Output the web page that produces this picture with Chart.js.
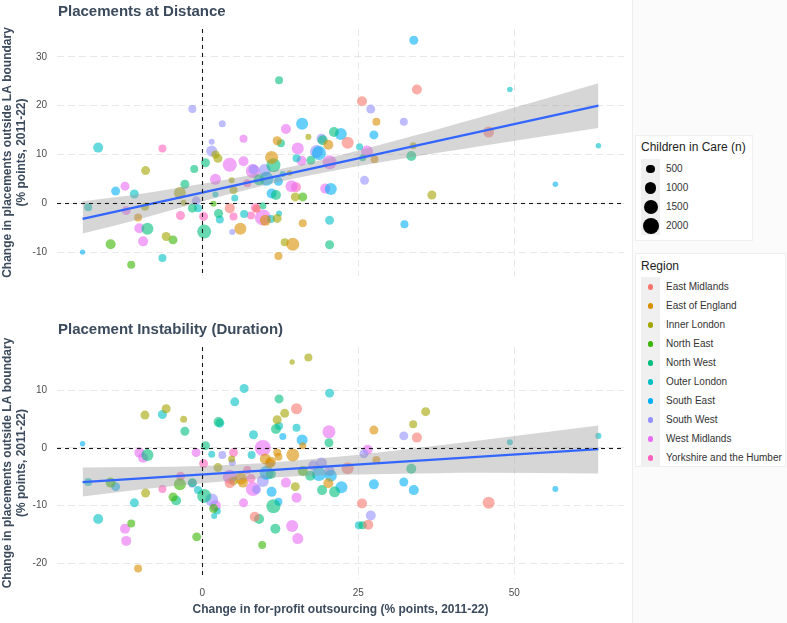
<!DOCTYPE html>
<html><head><meta charset="utf-8">
<script src="https://cdn.jsdelivr.net/npm/chart.js@4/dist/chart.umd.min.js"></script>
<style>
body{margin:0;background:#fff;font-family:'Liberation Sans',Arial,sans-serif;}
#wrap{position:relative;width:787px;height:623px;overflow:hidden;background:#fff;}
canvas{position:absolute;left:0;}
.ptitle{position:absolute;left:58px;font-weight:bold;font-size:15px;color:#3b4a5c;line-height:18px;white-space:nowrap;}
#side{position:absolute;left:632px;top:0;width:155px;height:623px;background:#fbfbfb;border-left:1px solid #eeeeee;}
.lbox{position:absolute;background:#fff;border:1px solid #efefef;box-sizing:border-box;}
.ltitle{position:absolute;left:641px;font-size:12px;color:#222;line-height:14px;white-space:nowrap;}
.keybg{position:absolute;left:641px;width:19px;background:#f0f0f0;}
.dot{position:absolute;border-radius:50%;}
.llab{position:absolute;left:666px;font-size:10px;color:#333;line-height:12px;white-space:nowrap;}
</style>
</head><body>
<div id="wrap">
  <div id="side"></div>
  <canvas id="cTop" width="632" height="292" style="top:0px"></canvas>
  <canvas id="cBot" width="632" height="323" style="top:300px"></canvas>
  <div class="ptitle" style="top:2px">Placements at Distance</div>
  <div class="ptitle" style="top:320px">Placement Instability (Duration)</div>
  <div id="legend"></div>
</div>
<script>
// ---------- DATA ----------
const regions = ['East Midlands','East of England','Inner London','North East','North West','Outer London','South East','South West','West Midlands','Yorkshire and the Humber'];
const xTicks = [0, 25, 50];
const distYTicks = [-10, 0, 10, 20, 30];
const instYTicks = [-20, -10, 0, 10];
const sizeBreaks = [500, 1000, 1500, 2000];

// Placements at Distance: [x, y, children in care]
const distEastMidlands = [[4.4,-1.0,700],[8.7,-1.1,400],[23.3,12.4,1070],[25.6,20.9,700],[34.4,23.3,700],[45.9,14.6,875]];
const distEastOfEngland = [[-10.3,-2.9,400],[6.1,-5.2,1070],[10.1,-3.5,875],[11.1,9.4,1275],[12.0,12.8,540],[12.2,-10.8,400],[14.5,-8.4,1275],[16.1,-4.1,400],[20.2,12.0,700],[27.6,9.0,400],[27.9,16.7,400]];
const distInnerLondon = [[-9.2,-0.7,400],[-9.1,6.7,540],[-5.8,-6.8,540],[-3.6,2.1,1070],[-3.0,0.1,170],[2.1,10.0,400],[2.5,9.2,540],[4.7,4.7,170],[5.0,2.7,400],[12.0,-3.1,540],[13.2,-8.0,400],[14.0,6.2,120],[14.9,1.3,540],[17.0,13.6,170],[33.8,11.8,275],[36.8,1.7,540]];
const distNorthEast = [[-14.7,-8.4,700],[-11.4,-12.6,400],[-4.7,-7.5,540],[1.8,-0.1,170],[16.1,1.3,540]];
const distNorthWest = [[-8.8,-5.2,1070],[-2.8,3.9,540],[-1.6,-1.0,540],[-1.3,7.0,400],[0.3,-5.8,1500],[0.5,8.3,540],[2.6,-2.1,540],[9.1,4.8,875],[9.7,-0.5,275],[11.4,7.8,1500],[11.8,1.7,700],[12.3,25.2,400],[12.6,12.3,400],[17.4,8.8,540],[19.3,12.9,700],[20.4,-8.5,540],[21.1,14.6,700],[25.7,9.3,275],[33.5,9.7,700]];
const distOuterLondon = [[-18.3,-0.8,400],[-16.7,11.4,700],[-10.9,1.9,540],[-6.4,-11.2,400],[-0.7,-1.0,400],[2.1,1.8,170],[2.8,-3.3,400],[5.2,1.1,275],[6.7,-2.2,400],[11.0,-3.2,400],[12.3,-2.1,170],[12.9,6.0,170],[15.1,9.2,400],[20.4,-3.5,540],[25.2,11.6,275],[49.3,23.3,120],[63.5,11.8,120]];
const distSouthEast = [[-19.2,-10.0,100],[-13.9,2.5,540],[10.3,5.0,1500],[11.1,2.0,700],[12.2,4.5,540],[16.0,16.3,1070],[18.7,10.3,1500],[20.6,2.9,1070],[22.2,14.2,1070],[27.5,14.0,540],[33.9,33.4,540],[32.4,-4.3,400],[56.6,3.9,120]];
const distSouthWest = [[-1.6,19.3,400],[-1.0,0.5,540],[1.5,12.6,170],[1.5,10.7,875],[3.2,16.3,275],[4.8,-5.9,170],[8.2,6.9,700],[10.0,6.8,1070],[18.3,10.6,1275],[19.1,13.2,700],[26.0,4.7,540],[27.0,19.3,540],[32.3,16.7,400]];
const distWestMidlands = [[-12.4,3.5,540],[-12.2,-1.5,540],[-10.1,-5.1,700],[-9.5,-7.8,700],[2.1,4.9,875],[4.4,7.9,1500],[6.6,8.6,700],[6.6,13.2,400],[8.1,6.6,1500],[9.7,-2.9,2000],[13.4,15.2,700],[14.3,3.5,1070],[15.3,11.2,1070],[15.9,8.7,700],[19.7,3.0,700],[20.4,8.4,1500],[26.4,10.6,1070]];
const distYorkshire = [[-6.4,11.2,400],[-3.5,-2.5,540],[0.2,-2.7,540],[5.0,-2.7,400],[7.2,4.1,400],[7.8,-2.5,400],[8.5,-0.9,540],[15.0,3.3,700]];

// Placement Instability: [x, y, children in care]
const instEastMidlands = [[4.4,-6.1,700],[8.4,-11.9,700],[15.1,6.8,875],[23.3,-3.5,1070],[25.6,-9.6,700],[26.6,-13.3,700],[34.4,1.8,700],[45.9,-9.5,1070]];
const instEastOfEngland = [[-10.3,-20.9,400],[6.2,-5.3,1070],[6.5,-6.0,700],[10.1,-1.9,875],[10.8,-2.7,700],[11.0,-2.4,700],[12.0,-0.8,400],[12.2,-1.5,400],[14.5,-1.2,1275],[16.1,0.4,275],[20.2,-6.1,700],[27.9,-2.1,400],[27.5,3.1,540]];
const instInnerLondon = [[-9.2,5.7,540],[-9.1,-7.8,540],[-5.8,6.8,540],[-3.0,5.0,275],[2.5,-3.4,540],[4.7,-1.9,275],[5.0,-5.7,540],[12.0,4.9,540],[13.2,6.0,540],[14.4,14.9,100],[14.9,-6.7,540],[17.0,15.7,400],[35.8,6.3,540],[33.8,4.1,400]];
const instNorthEast = [[-14.7,-6.0,700],[-11.4,-13.1,400],[-4.7,-8.5,540],[-3.6,-6.3,1070],[1.8,-10.5,540],[16.1,-4.0,700],[-0.9,-15.4,540],[9.6,-16.8,400]];
const instNorthWest = [[-8.8,-1.2,1070],[-2.8,2.9,540],[-1.6,-6.0,540],[-4.2,-9.1,700],[0.3,-8.3,1500],[0.5,0.4,540],[2.6,4.5,700],[9.1,-12.3,700],[11.4,-10.1,1500],[11.0,-4.5,700],[11.7,-14.0,700],[12.3,8.5,540],[11.8,3.3,700],[17.3,-4.8,700],[19.2,-7.3,700],[20.3,0.9,540],[21.2,-7.6,875],[25.7,-13.4,400],[33.5,-3.6,700]];
const instOuterLondon = [[-18.3,-5.9,400],[-16.7,-12.3,700],[-10.9,-9.5,540],[-6.4,5.8,540],[-0.7,-7.3,400],[1.5,-1.1,275],[1.9,-11.8,170],[2.4,-10.9,275],[2.8,4.3,540],[5.2,8.0,540],[6.7,10.3,540],[8.2,2.3,540],[7.9,-1.2,400],[12.3,3.8,400],[15.1,3.5,400],[20.4,9.5,540],[25.1,-13.4,400],[49.3,1.0,170],[63.5,2.1,170]];
const instSouthEast = [[-19.2,0.75,120],[-13.9,-6.7,540],[10.3,-4.3,1500],[11.1,-7.6,700],[12.2,-9.3,400],[12.9,2.0,275],[16.0,1.4,875],[18.7,-4.5,1500],[20.6,-4.8,1070],[22.3,-6.8,1070],[27.5,-6.3,700],[32.3,-5.9,540],[33.9,-7.3,700],[56.6,-7.1,170]];
const instSouthWest = [[-1.6,-6.1,540],[1.5,-9.0,1275],[3.2,-1.2,400],[4.8,-2.5,275],[8.7,-7.2,540],[9.7,-5.7,1070],[17.8,-3.0,700],[19.1,-2.6,875],[20.4,-4.0,700],[25.9,-1.0,540],[27.0,-11.7,700],[32.3,2.1,540]];
const instWestMidlands = [[-12.4,-14.0,700],[-12.2,-16.1,700],[-10.1,-0.8,700],[-9.5,-1.7,700],[-1.0,-0.8,540],[2.1,-10.0,875],[4.4,-5.0,1500],[6.6,-9.5,540],[8.1,-7.1,1500],[9.7,0.0,2000],[13.4,-6.0,700],[14.4,-13.5,1070],[15.1,-8.6,700],[15.3,-15.7,875],[20.3,2.8,1275],[26.5,-0.3,700]];
const instYorkshire = [[-6.4,-7.1,400],[-3.5,-4.9,540],[0.2,-2.7,540],[5.0,-0.8,540],[7.2,-3.8,400],[7.8,-5.3,540]];

// Fitted lines and confidence bands
const distLineX = [-19.2, 63.5];
const distLineY = [-3.2, 20.0];
const distBandX = [-19.2, -10, 0, 7, 15, 30, 45, 63.5];
const distBandUpper = [0.4, 1.9, 4.0, 5.6, 7.7, 12.5, 17.8, 24.6];
const distBandLower = [-6.2, -3.2, 0.35, 2.7, 5.1, 8.7, 11.8, 15.4];

const instLineX = [-19.2, 63.5];
const instLineY = [-5.9, -0.2];
const instBandX = [-19.2, -10, 0, 10, 20, 30, 45, 63.5];
const instBandUpper = [-3.4, -3.3, -3.1, -2.6, -1.7, -0.55, 1.4, 3.9];
const instBandLower = [-8.4, -7.2, -6.1, -5.2, -4.7, -4.5, -4.3, -4.4];

const distanceSets = [distEastMidlands, distEastOfEngland, distInnerLondon, distNorthEast, distNorthWest, distOuterLondon, distSouthEast, distSouthWest, distWestMidlands, distYorkshire];
const instabilitySets = [instEastMidlands, instEastOfEngland, instInnerLondon, instNorthEast, instNorthWest, instOuterLondon, instSouthEast, instSouthWest, instWestMidlands, instYorkshire];

// ---------- STYLE ----------
const regionColors = ['#F8766D','#D89000','#A3A500','#39B600','#00BF7D','#00BFC4','#00B0F6','#9590FF','#E76BF3','#FF62BC'];
const FONT = "'Liberation Sans', Arial, sans-serif";
const titleColor = '#3b4a5c';
function radiusFor(n){ return Math.sqrt(4 + n * 0.03); }
function rgba(hex, a){ const v = parseInt(hex.slice(1),16); return `rgba(${(v>>16)&255},${(v>>8)&255},${v&255},${a})`; }
function zip(xs, ys){ return xs.map((x,i)=>({x:x, y:ys[i]})); }

const refLines = {
  id: 'refLines',
  afterDatasetsDraw(chart){
    const {ctx, chartArea:a, scales:{x, y}} = chart;
    ctx.save();
    ctx.strokeStyle = '#1a1a1a'; ctx.lineWidth = 1.1; ctx.setLineDash([4,4]);
    const px = Math.round(x.getPixelForValue(0)) + 0.5;
    const py = Math.round(y.getPixelForValue(0)) + 0.5;
    ctx.beginPath(); ctx.moveTo(px, a.top); ctx.lineTo(px, a.bottom); ctx.stroke();
    ctx.beginPath(); ctx.moveTo(a.left, py); ctx.lineTo(a.right, py); ctx.stroke();
    ctx.restore();
  }
};

function makePanel(id, sets, lineX, lineY, bandX, bandU, bandL, yMin, yMax, yTicks, showX, pad){
  const datasets = [
    {type:'line', data: zip(lineX, lineY), borderColor:'#3366FF', borderWidth:2.2, pointRadius:0, fill:false, order:0},
    {type:'line', data: zip(bandX, bandU), borderColor:'transparent', borderWidth:0, pointRadius:0, fill:'+1', backgroundColor:'rgba(153,153,153,0.4)', cubicInterpolationMode:'monotone', order:1},
    {type:'line', data: zip(bandX, bandL), borderColor:'transparent', borderWidth:0, pointRadius:0, fill:false, cubicInterpolationMode:'monotone', order:2}
  ];
  sets.forEach((pts, i) => {
    datasets.push({
      type:'scatter', label: regions[i],
      data: pts.map(p => ({x:p[0], y:p[1], n:p[2]})),
      backgroundColor: rgba(regionColors[i], 0.6), borderWidth:0,
      pointRadius: ctx => (ctx.raw ? radiusFor(ctx.raw.n) : 3),
      order:3
    });
  });
  const yTitle = {display:true, text:['Change in placements outside LA boundary','(% points, 2011-22)'], color:titleColor, font:{family:FONT, size:12, weight:'bold'}, padding:{top:0,bottom:0}};
  return new Chart(document.getElementById(id), {
    type:'scatter',
    data:{datasets},
    plugins:[refLines],
    options:{
      responsive:false, animation:false, devicePixelRatio:1, events:[],
      layout:{padding:pad},
      plugins:{legend:{display:false}, tooltip:{enabled:false}, title:{display:false}},
      scales:{
        x:{type:'linear', min:-23.3, max:67.6,
          afterBuildTicks: s => { s.ticks = xTicks.map(v => ({value:v})); },
          afterFit: s => { s.height = showX ? 44 : 0; },
          grid:{color:'#e8e8e8', lineWidth:1, drawTicks:false},
          border:{display:false, dash:[7,4]},
          ticks:{display:showX, color:'#4d4d4d', font:{family:FONT, size:10}, padding:8, maxRotation:0},
          title: showX ? {display:true, text:'Change in for-profit outsourcing (% points, 2011-22)', color:titleColor, font:{family:FONT, size:12, weight:'bold'}, padding:{top:0,bottom:6}} : {display:false}
        },
        y:{type:'linear', min:yMin, max:yMax,
          afterBuildTicks: s => { s.ticks = yTicks.map(v => ({value:v})); },
          afterFit: s => { s.width = 57; },
          grid:{color:'#e8e8e8', lineWidth:1, drawTicks:false},
          border:{display:false, dash:[7,4]},
          ticks:{color:'#4d4d4d', font:{family:FONT, size:10}, padding:10},
          title: yTitle
        }
      }
    }
  });
}

makePanel('cTop', distanceSets, distLineX, distLineY, distBandX, distBandUpper, distBandLower, -14.9, 35.7, distYTicks, false, {top:29, right:7, bottom:11, left:0});
makePanel('cBot', instabilitySets, instLineX, instLineY, instBandX, instBandUpper, instBandLower, -22.7, 17.5, instYTicks, true, {top:47, right:7, bottom:0, left:0});

// ---------- LEGEND ----------
(function(){
  const L = document.getElementById('legend');
  let h = '';
  h += '<div class="lbox" style="left:635px;top:135px;width:118px;height:106px"></div>';
  h += '<div class="ltitle" style="top:140px">Children in Care (n)</div>';
  h += '<div class="keybg" style="top:159px;height:76px"></div>';
  sizeBreaks.forEach((n, i) => {
    const r = radiusFor(n), cy = 169 + 19 * i;
    h += `<div class="dot" style="left:${650.5 - r}px;top:${cy - r}px;width:${2*r}px;height:${2*r}px;background:#000"></div>`;
    h += `<div class="llab" style="top:${cy - 6}px">${n}</div>`;
  });
  h += '<div class="lbox" style="left:635px;top:253px;width:151px;height:214px"></div>';
  h += '<div class="ltitle" style="top:259px">Region</div>';
  h += '<div class="keybg" style="top:277px;height:190px"></div>';
  regions.forEach((name, i) => {
    const r = 2.8, cy = 287 + 19 * i;
    h += `<div class="dot" style="left:${650.5 - r}px;top:${cy - r}px;width:${2*r}px;height:${2*r}px;background:${regionColors[i]}"></div>`;
    h += `<div class="llab" style="top:${cy - 6}px">${name}</div>`;
  });
  L.innerHTML = h;
})();
</script>
</body></html>
